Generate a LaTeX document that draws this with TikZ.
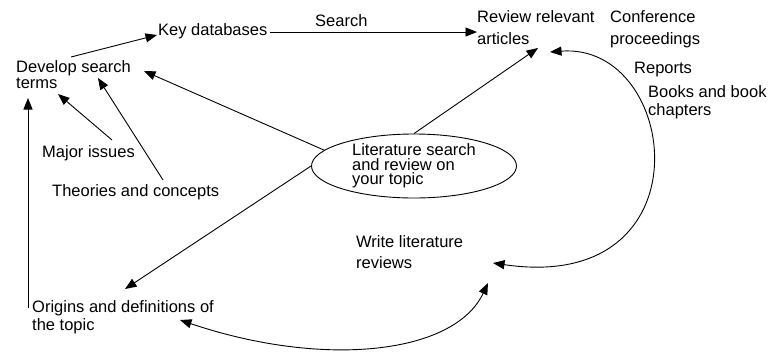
\documentclass[tikz,border=0pt]{standalone}
\usepackage{fontspec}
\setmainfont{Liberation Sans}
\usetikzlibrary{arrows.meta,shapes.geometric}
\tikzset{
  lbl/.style={anchor=base west, inner sep=0pt, align=left},
  sp16/.style={font={\fontsize{16.5}{16}\selectfont}},
  sp18/.style={font={\fontsize{16.5}{18}\selectfont}},
  sp21/.style={font={\fontsize{16.5}{21}\selectfont}},
  sp22/.style={font={\fontsize{16.5}{22}\selectfont}},
  arr/.style={-{Triangle[length=11.5pt,width=9pt]}, line width=0.9pt},
  darr/.style={{Triangle[length=11.5pt,width=9pt]}-{Triangle[length=11.5pt,width=9pt]}, line width=0.9pt},
}
\begin{document}
\begin{tikzpicture}[x=1pt,y=-1pt]
\useasboundingbox (0,0) rectangle (773,354);
% nodes (base west = baseline of the last line)
\node[lbl,sp18] (key) at (158,35) {Key databases};
\node[lbl,sp18] (search) at (315,26) {Search};
\node[lbl,sp22] (rev) at (477,44) {Review relevant\\articles};
\node[lbl,sp22] (conf) at (610,44) {Conference\\proceedings};
\node[lbl,sp18] (rep) at (634,73) {Reports};
\node[lbl,sp18] (books) at (648,115) {Books and book\\chapters};
\node[lbl,sp16] (dev) at (16,88) {Develop search\\terms};
\node[lbl,sp18] (major) at (42,157) {Major issues};
\node[lbl,sp18] (theo) at (52,196) {Theories and concepts};
\node[draw, line width=0.9pt, ellipse, minimum width=205pt, minimum height=64pt, inner sep=0pt, align=left,
      font={\fontsize{16.5}{14.5}\selectfont}] (ell) at (414,166) {Literature search\\and review on\\your topic};
\node[lbl,sp21] (write) at (356,268) {Write literature\\reviews};
\node[lbl,sp18] (orig) at (32,330) {Origins and definitions of\\the topic};
% connectors
\draw[arr] ([shift={(55,-31)}]dev.base west) -- ([shift={(-1,0)}]key.base west);
\draw[arr] ([shift={(112,-3)}]key.base west) -- ([shift={(0,-12)}]rev.base west);
\draw[arr] (ell.170) -- ([shift={(128,-17)}]dev.base west);
\draw[arr] (ell.north) -- ([shift={(61,4)}]rev.base west);
\draw[arr] (ell.west) -- ([shift={(93,-41)}]orig.base west);
\draw[arr] ([shift={(70,-17)}]major.base west) -- ([shift={(42,6)}]dev.base west);
\draw[arr] ([shift={(111,-16)}]theo.base west) -- ([shift={(82,-10)}]dev.base west);
\draw[arr] ([shift={(-4,-22)}]orig.base west) -- ([shift={(12,10)}]dev.base west);
\draw[darr] ([shift={(137,-5)}]write.base west) .. controls +(217,32) and +(130,-10) .. ([shift={(73,8)}]rev.base west);
\draw[darr] ([shift={(148,-10)}]orig.base west) .. controls +(142,48) and +(-34,72) .. ([shift={(132,15)}]write.base west);
\end{tikzpicture}
\end{document}
